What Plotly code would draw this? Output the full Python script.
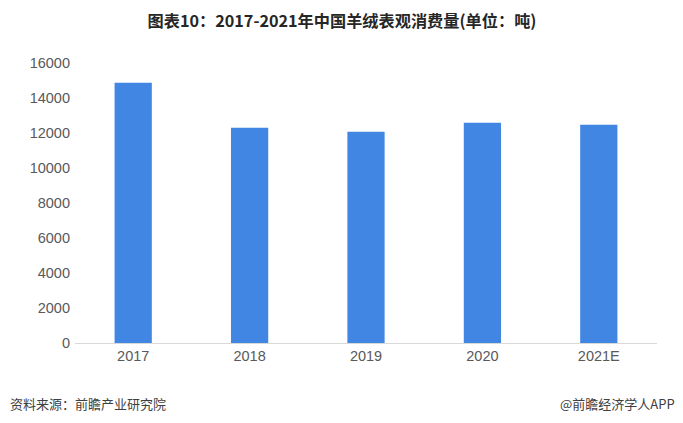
import plotly.graph_objects as go

categories = ["2017", "2018", "2019", "2020", "2021E"]
values = [14870, 12300, 12070, 12590, 12470]
y_ticks = [0, 2000, 4000, 6000, 8000, 10000, 12000, 14000, 16000]
y_tick_text = [str(v) for v in y_ticks]

W, H = 675, 415
L, R, T, B = 67, 26, 55, 80
pw, ph = W - L - R, H - T - B

fig = go.Figure(go.Bar(
    x=categories, y=values, marker_color="#4186E2", width=0.32,
    marker_line_width=0,
))

fig.update_layout(
    width=W, height=H,
    margin=dict(l=L, r=R, t=T, b=B),
    paper_bgcolor="white", plot_bgcolor="white",
    font=dict(family="Liberation Sans, Arial, sans-serif", size=14, color="#595959"),
    showlegend=False,
    title=dict(
        text="<b>图表10：2017-2021年中国羊绒表观消费量(单位：吨)</b>",
        x=(342 - 8) / W, xanchor="center", y=1 - 13 / H, yanchor="middle",
        font=dict(family="Noto Sans CJK SC", size=16.2, color="#262626"),
    ),
    xaxis=dict(showline=True, linecolor="#D9D9D9", linewidth=1, ticks="",
               tickfont=dict(size=14.5, color="#595959"), showgrid=False),
    yaxis=dict(range=[0, 16000], tickvals=y_ticks, ticktext=y_tick_text,
               showgrid=False, zeroline=False,
               showline=False, ticks="", tickfont=dict(size=14.5, color="#595959"),
               ticklabelstandoff=4),
    bargap=0.68,
)

foot_y = -(403 - 8 - (H - B)) / ph
fig.add_annotation(text="资料来源：前瞻产业研究院", xref="paper", yref="paper",
                   x=(0 - L) / pw, y=foot_y, xanchor="left", yanchor="middle", showarrow=False,
                   font=dict(family="Noto Sans CJK SC", size=13, color="#404040"))
fig.add_annotation(text="@前瞻经济学人APP", xref="paper", yref="paper",
                   x=(669 - L) / pw, y=foot_y, xanchor="right", yanchor="middle", showarrow=False,
                   font=dict(family="Noto Sans CJK SC", size=13, color="#404040"))

fig.write_html("out.html")
